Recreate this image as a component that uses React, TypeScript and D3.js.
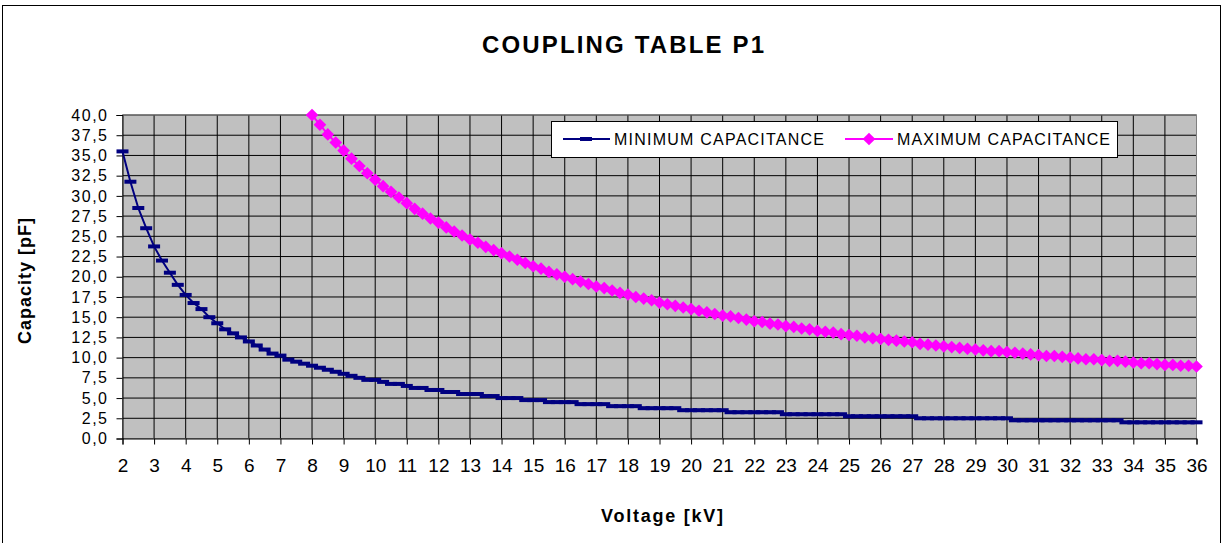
import React, { useEffect, useRef } from 'react';
import * as d3 from 'd3';

const WIDTH = 1223;
const HEIGHT = 543;
const FONT = "'Liberation Sans', Arial, sans-serif";

// voltage categories [kV], one point every 0.25 kV
const voltages = d3.range(2, 36.001, 0.25);
const xTickLabels = d3.range(2, 37);
const yTickLabels = d3.range(0, 40.001, 2.5);

// minimum capacitance [pF], 2 .. 36 kV
const minCapacitance = [
    35.5, 31.75, 28.5, 26.0,
    23.75, 22.0, 20.5, 19.0,
    17.75, 16.75, 16.0, 15.0,
    14.25, 13.5, 13.0, 12.5,
    12.0, 11.5, 11.0, 10.5,
    10.25, 9.75, 9.5, 9.25,
    9.0, 8.75, 8.5, 8.25,
    8.0, 7.75, 7.5, 7.25,
    7.25, 7.0, 6.75, 6.75,
    6.5, 6.25, 6.25, 6.0,
    6.0, 5.75, 5.75, 5.5,
    5.5, 5.5, 5.25, 5.25,
    5.0, 5.0, 5.0, 4.75,
    4.75, 4.75, 4.5, 4.5,
    4.5, 4.5, 4.25, 4.25,
    4.25, 4.25, 4.0, 4.0,
    4.0, 4.0, 3.75, 3.75,
    3.75, 3.75, 3.75, 3.5,
    3.5, 3.5, 3.5, 3.5,
    3.5, 3.25, 3.25, 3.25,
    3.25, 3.25, 3.25, 3.25,
    3.0, 3.0, 3.0, 3.0,
    3.0, 3.0, 3.0, 3.0,
    2.75, 2.75, 2.75, 2.75,
    2.75, 2.75, 2.75, 2.75,
    2.75, 2.5, 2.5, 2.5,
    2.5, 2.5, 2.5, 2.5,
    2.5, 2.5, 2.5, 2.5,
    2.5, 2.25, 2.25, 2.25,
    2.25, 2.25, 2.25, 2.25,
    2.25, 2.25, 2.25, 2.25,
    2.25, 2.25, 2.25, 2.0,
    2.0, 2.0, 2.0, 2.0,
    2.0, 2.0, 2.0, 2.0,
    2.0
];

// maximum capacitance [pF], starts at 8 kV
const maxStartVoltage = 8;
const maxCapacitance = [
    40.0, 38.8, 37.6, 36.6,
    35.6, 34.6, 33.7, 32.8,
    32.0, 31.2, 30.5, 29.8,
    29.1, 28.4, 27.8, 27.2,
    26.7, 26.1, 25.6, 25.1,
    24.6, 24.2, 23.7, 23.3,
    22.9, 22.5, 22.1, 21.7,
    21.3, 21.0, 20.6, 20.3,
    20.0, 19.7, 19.4, 19.1,
    18.8, 18.6, 18.3, 18.0,
    17.8, 17.5, 17.3, 17.1,
    16.8, 16.6, 16.4, 16.2,
    16.0, 15.8, 15.6, 15.4,
    15.2, 15.1, 14.9, 14.7,
    14.5, 14.4, 14.2, 14.1,
    13.9, 13.8, 13.6, 13.5,
    13.3, 13.2, 13.1, 12.9,
    12.8, 12.7, 12.5, 12.4,
    12.3, 12.2, 12.1, 12.0,
    11.9, 11.7, 11.6, 11.5,
    11.4, 11.3, 11.2, 11.1,
    11.0, 10.9, 10.8, 10.8,
    10.7, 10.6, 10.5, 10.4,
    10.3, 10.2, 10.2, 10.1,
    10.0, 9.9, 9.8, 9.8,
    9.7, 9.6, 9.6, 9.5,
    9.4, 9.3, 9.3, 9.2,
    9.1, 9.1, 9.0, 9.0,
    8.9
];

const seriesNames = ['MINIMUM CAPACITANCE', 'MAXIMUM CAPACITANCE'];
const NAVY = '#000080';
const MAGENTA = '#FF00FF';

export default function App() {
    const ref = useRef<SVGSVGElement>(null);

    useEffect(() => {
        const svg = d3.select(ref.current);
        svg.selectAll('*').remove();

        const plot = { left: 122.5, right: 1196.5, top: 115, bottom: 438.5 };

        // chart frame
        svg.append('rect')
            .attr('x', 2.5).attr('y', 5.5)
            .attr('width', 1218).attr('height', 600)
            .attr('fill', '#fff').attr('stroke', '#000');

        svg.append('text')
            .attr('x', 623).attr('y', 53)
            .attr('text-anchor', 'middle')
            .attr('font-family', FONT).attr('font-weight', 'bold').attr('font-size', 24)
            .attr('textLength', 282).attr('lengthAdjust', 'spacing')
            .text('COUPLING TABLE P1');

        const x = d3.scaleLinear().domain([2, 36]).range([plot.left, plot.right]);
        const y = d3.scaleLinear().domain([0, 40]).range([plot.bottom, plot.top]);

        // plot area
        svg.append('rect')
            .attr('x', plot.left).attr('y', plot.top)
            .attr('width', plot.right - plot.left).attr('height', plot.bottom - plot.top)
            .attr('fill', '#C0C0C0');

        // grid
        svg.append('g').selectAll('line').data(yTickLabels.slice(1))
            .join('line')
            .attr('x1', plot.left).attr('x2', plot.right)
            .attr('y1', d => y(d)).attr('y2', d => y(d))
            .attr('stroke', '#000').attr('stroke-width', 1);
        svg.append('g').selectAll('line').data(xTickLabels.slice(1, -1))
            .join('line')
            .attr('x1', d => x(d)).attr('x2', d => x(d))
            .attr('y1', plot.top).attr('y2', plot.bottom)
            .attr('stroke', '#000').attr('stroke-width', 1);

        svg.append('rect')
            .attr('x', plot.left).attr('y', plot.top)
            .attr('width', plot.right - plot.left).attr('height', plot.bottom - plot.top)
            .attr('fill', 'none').attr('stroke', '#808080');

        // axes
        const fmt = (d: number) => d3.format('.1f')(d).replace('.', ',');
        const yAxis = svg.append('g')
            .attr('transform', `translate(${plot.left},0)`)
            .call(d3.axisLeft(y).tickValues(yTickLabels).tickSize(6).tickPadding(8).tickFormat(fmt as any));
        yAxis.select('.domain').attr('stroke', '#000');
        yAxis.selectAll('.tick line').attr('stroke', '#000');
        yAxis.selectAll('text')
            .attr('font-family', FONT).attr('font-size', 16)
            .attr('letter-spacing', 1.5).attr('fill', '#000');

        const xAxis = svg.append('g')
            .attr('transform', `translate(0,${plot.bottom})`)
            .call(d3.axisBottom(x).tickValues(xTickLabels).tickSize(6).tickPadding(14).tickFormat(d3.format('d') as any));
        xAxis.select('.domain').attr('stroke', '#000');
        xAxis.selectAll('.tick line').attr('stroke', '#000');
        xAxis.selectAll('text')
            .attr('font-family', FONT).attr('font-size', 19).attr('fill', '#000');

        svg.append('text')
            .attr('transform', 'translate(31,281) rotate(-90)')
            .attr('text-anchor', 'middle')
            .attr('font-family', FONT).attr('font-weight', 'bold').attr('font-size', 18)
            .attr('textLength', 126).attr('lengthAdjust', 'spacing')
            .text('Capacity [pF]');

        svg.append('text')
            .attr('x', 662).attr('y', 522)
            .attr('text-anchor', 'middle')
            .attr('font-family', FONT).attr('font-weight', 'bold').attr('font-size', 18)
            .attr('textLength', 122).attr('lengthAdjust', 'spacing')
            .text('Voltage [kV]');

        // series
        const minData = minCapacitance.map((c, i) => ({ v: voltages[i], c }));
        const maxOffset = voltages.indexOf(maxStartVoltage);
        const maxData = maxCapacitance.map((c, i) => ({ v: voltages[maxOffset + i], c }));

        const line = d3.line<{ v: number, c: number }>()
            .x(d => x(d.v))
            .y(d => y(d.c));

        svg.append('path').datum(minData)
            .attr('fill', 'none').attr('stroke', NAVY).attr('stroke-width', 2)
            .attr('d', line);
        // dash markers
        svg.append('g').selectAll('rect').data(minData)
            .join('rect')
            .attr('x', d => x(d.v) - 6).attr('y', d => y(d.c) - 2)
            .attr('width', 12).attr('height', 4)
            .attr('fill', NAVY);

        const diamond = d3.symbol(d3.symbolSquare, 80);
        svg.append('path').datum(maxData)
            .attr('fill', 'none').attr('stroke', MAGENTA).attr('stroke-width', 2)
            .attr('d', line);
        svg.append('g').selectAll('path').data(maxData)
            .join('path')
            .attr('transform', d => `translate(${x(d.v)},${y(d.c)}) rotate(45)`)
            .attr('d', diamond as any)
            .attr('fill', MAGENTA);

        // legend
        const legend = svg.append('g');
        legend.append('rect')
            .attr('x', 551.5).attr('y', 121.5)
            .attr('width', 566).attr('height', 36)
            .attr('fill', '#fff').attr('stroke', '#000');
        const ly = 139;
        legend.append('line')
            .attr('x1', 563).attr('x2', 610).attr('y1', ly).attr('y2', ly)
            .attr('stroke', NAVY).attr('stroke-width', 2);
        legend.append('rect')
            .attr('x', 580).attr('y', ly - 2).attr('width', 12).attr('height', 4)
            .attr('fill', NAVY);
        legend.append('text')
            .attr('x', 614).attr('y', ly + 5.5)
            .attr('font-family', FONT).attr('font-size', 16)
            .attr('textLength', 210).attr('lengthAdjust', 'spacing')
            .text(seriesNames[0]);
        legend.append('line')
            .attr('x1', 845).attr('x2', 893).attr('y1', ly).attr('y2', ly)
            .attr('stroke', MAGENTA).attr('stroke-width', 2);
        legend.append('path')
            .attr('transform', `translate(869,${ly}) rotate(45)`)
            .attr('d', diamond as any)
            .attr('fill', MAGENTA);
        legend.append('text')
            .attr('x', 897).attr('y', ly + 5.5)
            .attr('font-family', FONT).attr('font-size', 16)
            .attr('textLength', 213).attr('lengthAdjust', 'spacing')
            .text(seriesNames[1]);
    }, []);

    return (
        <svg ref={ref} width={WIDTH} height={HEIGHT}
            style={{ position: 'absolute', left: 0, top: 0, background: '#fff' }} />
    );
}
